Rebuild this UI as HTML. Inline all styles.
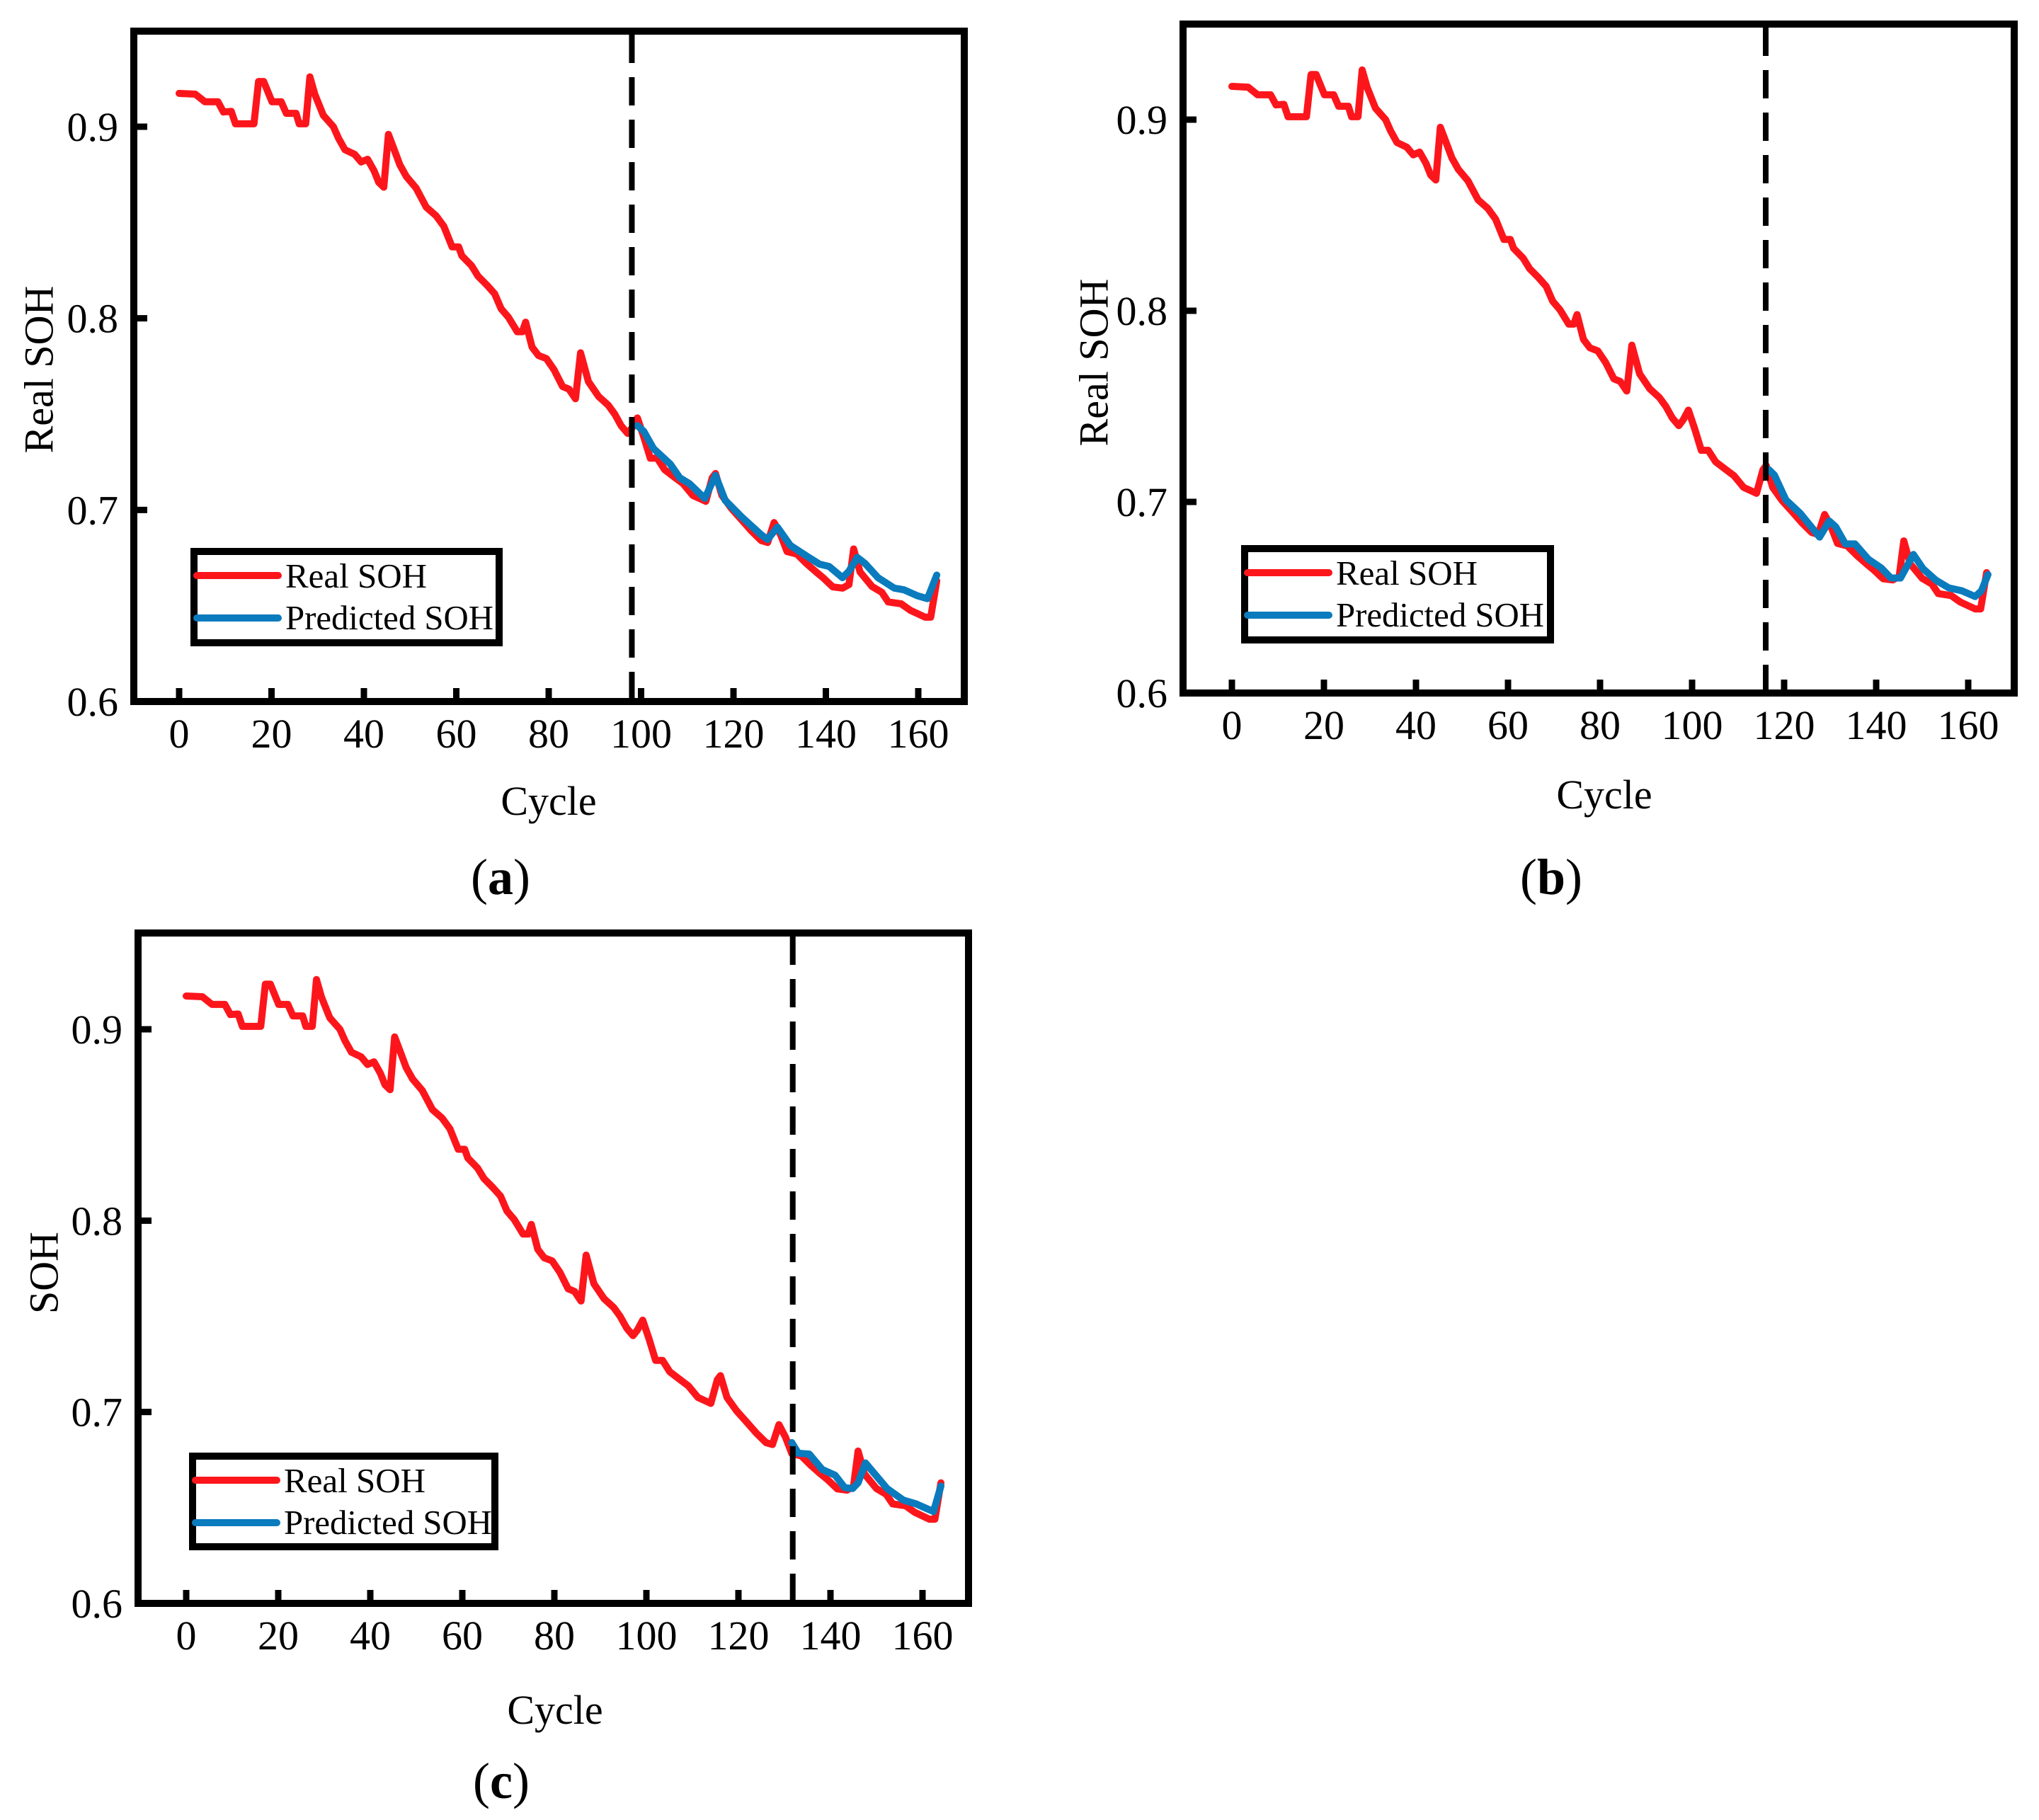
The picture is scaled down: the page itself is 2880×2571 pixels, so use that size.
<!DOCTYPE html>
<html><head><meta charset="utf-8"><style>
html,body{margin:0;padding:0;background:#fff}
svg{display:block}
text{font-family:"Liberation Serif",serif;fill:#000}
</style></head><body>
<svg id="fig" width="2880" height="2571" viewBox="0 0 2880 2571" xmlns="http://www.w3.org/2000/svg"></svg>
<script>
// ---- data ----
const realCycles = [0,3.5,5.6,8.4,9.6,11.3,12.2,16.2,17.2,18.3,20.1,22.1,23.2,25.3,26,27.4,28.3,29.4,31.2,33.4,34.5,35.9,38,39.4,40.8,42.2,43.2,44.3,45.3,46.4,47.8,49.2,51.3,53.5,55.6,57.3,59.1,60.5,61.2,63.3,64.7,66.6,68.3,69.7,71.3,73.2,74.3,75,76.4,77.8,79.5,81.2,83,84.4,85.8,86.9,88.6,90.8,92.9,94.3,95.7,97.1,98.1,99.2,100.6,102,103.5,105.1,107,109.1,111.2,114,115.4,116.1,117.5,119.6,121.7,123.9,126,127.4,128.8,130.2,131.6,133.7,135.8,137.9,139.4,141.5,143.6,145,146,147.4,150,152.1,153.5,156.3,158.3,161.5,162.7,164];
const realSoh = [0.9174,0.917,0.913,0.913,0.9077,0.908,0.9015,0.9015,0.9236,0.9236,0.913,0.913,0.907,0.907,0.9015,0.9015,0.926,0.9168,0.906,0.900,0.894,0.888,0.8856,0.8816,0.883,0.877,0.871,0.8684,0.896,0.889,0.880,0.874,0.868,0.858,0.8536,0.848,0.8373,0.8373,0.8327,0.8275,0.822,0.8174,0.8128,0.805,0.8005,0.793,0.793,0.798,0.785,0.7806,0.779,0.773,0.7644,0.763,0.758,0.782,0.767,0.7592,0.7546,0.750,0.7439,0.7399,0.743,0.748,0.738,0.727,0.727,0.721,0.7175,0.7137,0.7076,0.7045,0.7168,0.719,0.7076,0.7006,0.695,0.689,0.684,0.683,0.6934,0.687,0.6783,0.677,0.672,0.6676,0.6646,0.6598,0.6592,0.661,0.6796,0.6676,0.660,0.657,0.652,0.651,0.6476,0.644,0.644,0.663];
const predCyclesA = [99.2,100.6,102.7,106.3,108.4,110.5,113.8,116.1,118.2,121.7,126,127.4,129.5,132.3,135.8,138.6,140.7,143.6,145,146.8,148.5,151.3,154.8,156.9,159.8,162,164];
const predSohA = [0.744,0.741,0.732,0.724,0.7167,0.7137,0.706,0.718,0.705,0.6965,0.687,0.6846,0.691,0.6815,0.676,0.6717,0.6705,0.6646,0.668,0.6752,0.672,0.6646,0.6592,0.6583,0.6552,0.6537,0.666];
const predCyclesB = [116.7,117.9,120.4,123.5,127.7,129.8,131.2,133.3,135.4,138.3,141.1,143.2,145.3,148.1,150.2,153,155.8,158.6,161.5,162.9,164.3];
const predSohB = [0.7168,0.714,0.701,0.694,0.6816,0.690,0.687,0.678,0.678,0.670,0.6654,0.6602,0.6602,0.6725,0.665,0.659,0.655,0.6535,0.6505,0.6535,0.662];
const predCyclesC = [131.6,133,135.4,138.2,141,143.1,144.8,146,147.6,150.2,152.3,155.8,158.6,161.4,162.4,164];
const predSohC = [0.684,0.6785,0.678,0.670,0.667,0.6605,0.660,0.663,0.6734,0.666,0.660,0.654,0.652,0.649,0.648,0.6613];
const splitCycles = [98, 116, 131.8];
const xTicks = [0,20,40,60,80,100,120,140,160];
const yTicks = [0.6,0.7,0.8,0.9];
const yTickLabels = ["0.6","0.7","0.8","0.9"];
const panelLetters = ["a","b","c"];
const yTitles = ["Real SOH","Real SOH","SOH"];

const NS = "http://www.w3.org/2000/svg";
const svg = document.getElementById("fig");
function mk(tag, attrs, parent){
  const e = document.createElementNS(NS, tag);
  for (const k in attrs) e.setAttribute(k, attrs[k]);
  (parent||svg).appendChild(e);
  return e;
}
const RED = "#fc161c", BLUE = "#0a7bbd";

const panels = [
  {L:189,T:44,R:1362,B:991, x0:253,x160:1297, y06:991,y09:179, leg:[269,774,710,913], yt:[55,522], cyc:[775,1151], lab:[707,1263], pc:predCyclesA, ps:predSohA},
  {L:1671,T:34,R:2845,B:979, x0:1740,x160:2780, y06:979,y09:169, leg:[1753,770,2195,909], yt:[1545,512], cyc:[2266,1142], lab:[2191,1263], pc:predCyclesB, ps:predSohB},
  {L:195,T:1318,R:1368,B:2265, x0:263,x160:1303, y06:2265,y09:1454, leg:[267,2052,704,2190], yt:[62,1798], cyc:[784,2435], lab:[708,2540], pc:predCyclesC, ps:predSohC}
];

panels.forEach((p, i) => {
  const g = mk("g", {});
  
  
  const sx = v => p.x0 + (v/160)*(p.x160 - p.x0);
  const sy = v => p.y06 - ((v-0.6)/0.3)*(p.y06 - p.y09);
  const clip = mk("clipPath", {id:"clip"+i}, g);
  mk("rect", {x:p.L, y:p.T, width:p.R-p.L, height:p.B-p.T}, clip);

  const real = mk("polyline", {points: realCycles.map((c,k)=>sx(c).toFixed(1)+","+sy(realSoh[k]).toFixed(1)).join(" "),
    fill:"none", stroke:RED, "stroke-width":10, "stroke-linejoin":"round", "stroke-linecap":"round", "clip-path":"url(#clip"+i+")"}, g);
  
  
  const pred = mk("polyline", {points: p.pc.map((c,k)=>sx(c).toFixed(1)+","+sy(p.ps[k]).toFixed(1)).join(" "),
    fill:"none", stroke:BLUE, "stroke-width":10, "stroke-linejoin":"round", "stroke-linecap":"round", "clip-path":"url(#clip"+i+")"}, g);
  
  
  const sl = mk("line", {x1:sx(splitCycles[i]), x2:sx(splitCycles[i]), y1:p.T+5, y2:p.B-5, stroke:"#000", "stroke-width":8, "stroke-dasharray":"40 20"}, g);
  
  

  xTicks.forEach(t => {
    const tk = mk("line", {x1:sx(t), x2:sx(t), y1:p.B, y2:p.B-19, stroke:"#000", "stroke-width":9}, g);
    
    
    const tl = mk("text", {x:sx(t), y:p.B+65, "font-size":58, "text-anchor":"middle"}, g);
    tl.textContent = String(t);
    
    
  });
  yTicks.forEach((t,k) => {
    const tk = mk("line", {x1:p.L, x2:p.L+19, y1:sy(t), y2:sy(t), stroke:"#000", "stroke-width":9}, g);
    
    
    const tl = mk("text", {x:p.L-22, y:sy(t)+20, "font-size":58, "text-anchor":"end"}, g);
    tl.textContent = yTickLabels[k];
    
    
  });
  const fr = mk("rect", {x:p.L, y:p.T, width:p.R-p.L, height:p.B-p.T, fill:"none", stroke:"#000", "stroke-width":10}, g);
  
  

  const [lx1,ly1,lx2,ly2] = p.leg;
  const lg = mk("g", {}, g);
  
  
  mk("rect", {x:lx1+5, y:ly1+5, width:lx2-lx1-10, height:ly2-ly1-10, fill:"#fff", stroke:"#000", "stroke-width":10}, lg);
  const r1 = mk("line", {x1:lx1+9, x2:lx1+124, y1:ly1+39, y2:ly1+39, stroke:RED, "stroke-width":10, "stroke-linecap":"round"}, lg);
  
  
  const t1 = mk("text", {x:lx1+134, y:ly1+56, "font-size":49}, lg);
  t1.textContent = "Real SOH";
  
  
  const r2 = mk("line", {x1:lx1+9, x2:lx1+124, y1:ly1+99, y2:ly1+99, stroke:BLUE, "stroke-width":10, "stroke-linecap":"round"}, lg);
  
  
  const t2 = mk("text", {x:lx1+134, y:ly1+115, "font-size":49, textLength:294, lengthAdjust:"spacingAndGlyphs"}, lg);
  t2.textContent = "Predicted SOH";
  
  

  const yt = mk("text", {x:p.yt[0], y:p.yt[1], "font-size":58, "text-anchor":"middle", transform:"rotate(-90 "+p.yt[0]+" "+p.yt[1]+")", "dominant-baseline":"central"}, g);
  yt.textContent = yTitles[i];
  
  
  const xt = mk("text", {x:p.cyc[0], y:p.cyc[1], "font-size":58, "text-anchor":"middle"}, g);
  xt.textContent = "Cycle";
  
  
  const lb = mk("text", {x:p.lab[0], y:p.lab[1], "font-size":72, "text-anchor":"middle"}, g);
  lb.textContent = "(";
  const bt = mk("tspan", {"font-weight":"bold"}, lb);
  bt.textContent = panelLetters[i];
  const ct = mk("tspan", {}, lb);
  ct.textContent = ")";
  
  
});
</script>
</body></html>
